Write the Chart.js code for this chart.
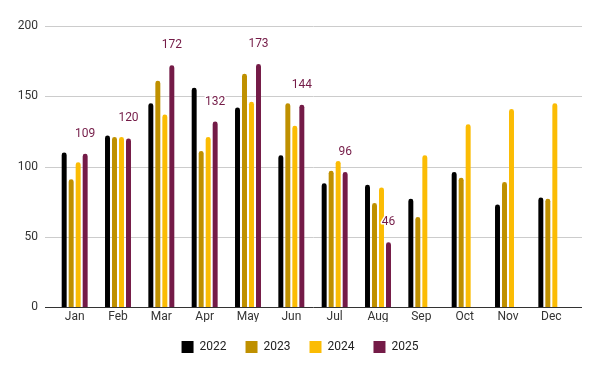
<!DOCTYPE html>
<html>
<head>
  <meta charset="UTF-8">
  <title>Monthly values by year</title>
  <script src="https://cdn.jsdelivr.net/npm/chart.js"></script>
  <style>
    html, body { margin: 0; padding: 0; background: #fff; }
    #wrap { width: 600px; height: 371px; }
  </style>
</head>
<body>
  <div id="wrap"><canvas id="chart" width="600" height="371"></canvas></div>

  <script>
    const months = ["Jan", "Feb", "Mar", "Apr", "May", "Jun", "Jul", "Aug", "Sep", "Oct", "Nov", "Dec"];
    const years = ["2022", "2023", "2024", "2025"];
    const v2022 = [110, 122, 145, 156, 142, 108, 88, 87, 77, 96, 73, 78];
    const v2023 = [91, 121, 161, 111, 166, 145, 97, 74, 64, 92, 89, 77];
    const v2024 = [103, 121, 137, 121, 146, 129, 104, 85, 108, 130, 141, 145];
    const v2025 = [109, 120, 172, 132, 173, 144, 96, 46, null, null, null, null];
    const yTicks = [0, 50, 100, 150, 200];

    const colors = ["#000000", "#bf9000", "#fbbc04", "#741b47"];
    const series = [v2022, v2023, v2024, v2025];
    const font = "Roboto";

    // horizontal grid drawn a bit wider than the category area
    const gridPlugin = {
      id: "wideGrid",
      beforeDatasetsDraw(chart) {
        const ctx = chart.ctx;
        const area = chart.chartArea;
        const y = chart.scales.y;
        ctx.save();
        yTicks.forEach(t => {
          const py = Math.round(y.getPixelForValue(t)) + 0.5;
          ctx.strokeStyle = t === 0 ? "#333333" : "#cccccc";
          ctx.lineWidth = 1;
          ctx.beginPath();
          ctx.moveTo(area.left - 8, py);
          ctx.lineTo(area.right + 9, py);
          ctx.stroke();
        });
        ctx.restore();
      }
    };

    // value labels above the 2025 bars
    const labelPlugin = {
      id: "barLabels",
      afterDatasetsDraw(chart) {
        const ctx = chart.ctx;
        const meta = chart.getDatasetMeta(3);
        ctx.save();
        ctx.font = "12px " + font;
        ctx.textAlign = "center";
        ctx.textBaseline = "middle";
        ctx.lineJoin = "round";
        meta.data.forEach((bar, i) => {
          const val = v2025[i];
          if (val === null) return;
          ctx.strokeStyle = "#ffffff";
          ctx.lineWidth = 3;
          ctx.strokeText(String(val), bar.x, bar.y - 20);
          ctx.fillStyle = "#741b47";
          ctx.fillText(String(val), bar.x, bar.y - 20);
        });
        ctx.restore();
      }
    };

    new Chart(document.getElementById("chart"), {
      type: "bar",
      data: {
        labels: months,
        datasets: years.map((yr, i) => ({
          label: yr,
          data: series[i],
          backgroundColor: colors[i],
          borderWidth: 0,
          borderRadius: { topLeft: 3, topRight: 3 },
          borderSkipped: "bottom",
          barPercentage: 0.71,
          categoryPercentage: 0.646
        }))
      },
      options: {
        responsive: false,
        animation: false,
        layout: { padding: { left: 0, right: 0, top: 26, bottom: 8 } },
        scales: {
          x: {
            afterFit(scale) { scale.height = 15; },
            grid: { display: false, drawTicks: false },
            border: { display: false },
            ticks: { color: "#333333", padding: 3, font: { family: font, size: 12 } }
          },
          y: {
            min: 0,
            max: 200,
            afterFit(scale) { scale.width = 53; },
            afterBuildTicks(scale) { scale.ticks = yTicks.map(v => ({ value: v })); },
            grid: { display: false, drawTicks: false },
            border: { display: false },
            ticks: { color: "#333333", padding: 15, font: { family: font, size: 12 } }
          },
          // empty right-hand spacer so the legend stays centred on the canvas
          spacer: {
            type: "linear",
            position: "right",
            afterFit(scale) { scale.width = 27; },
            grid: { display: false, drawTicks: false },
            border: { display: false },
            ticks: { display: false }
          }
        },
        plugins: {
          legend: {
            position: "bottom",
            labels: {
              boxWidth: 12,
              boxHeight: 12,
              padding: 19,
              color: "#222222",
              font: { family: font, size: 12 }
            }
          },
          tooltip: { enabled: false }
        }
      },
      plugins: [gridPlugin, labelPlugin]
    });
  </script>
</body>
</html>
